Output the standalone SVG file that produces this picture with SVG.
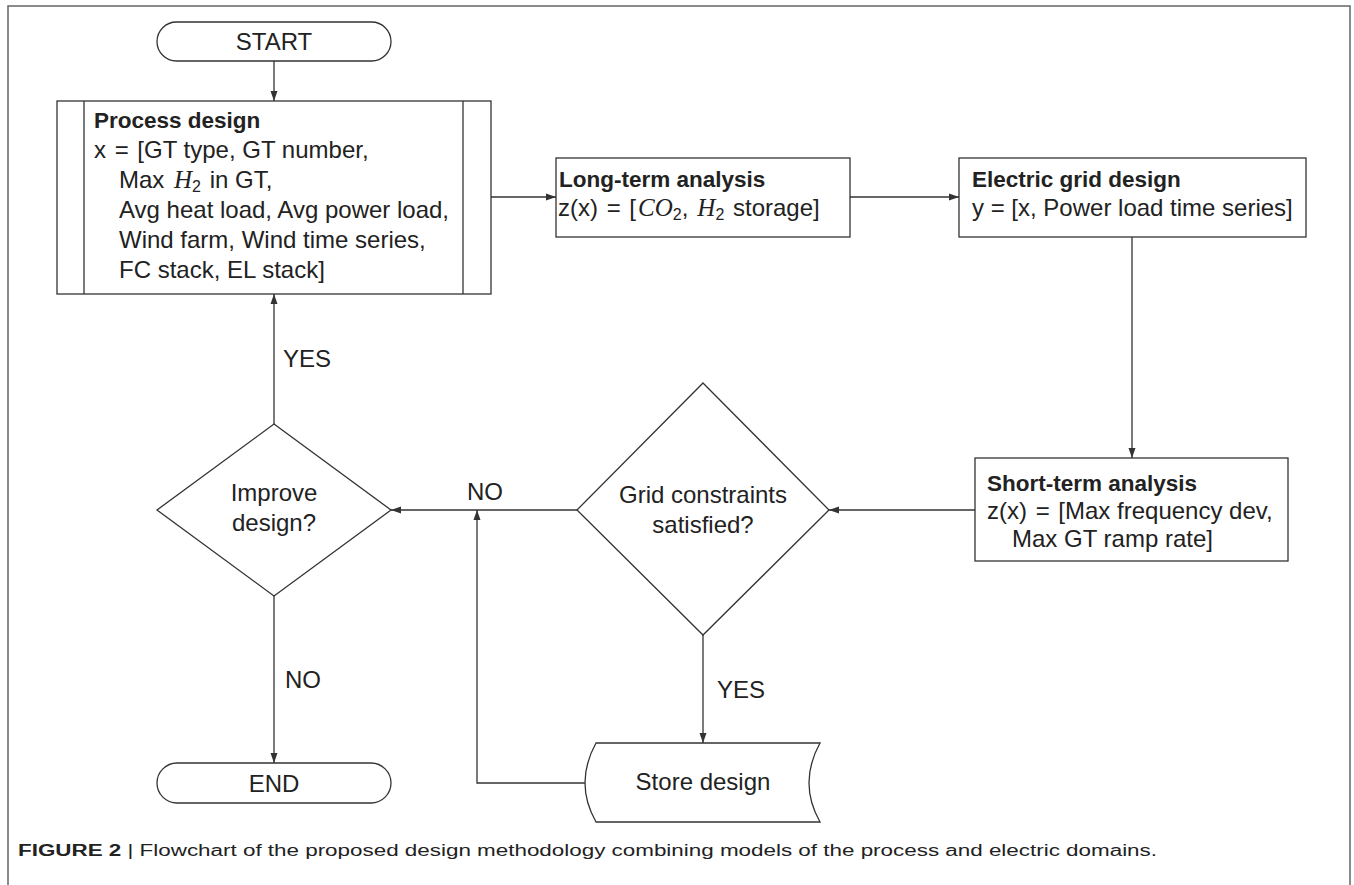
<svg xmlns="http://www.w3.org/2000/svg" width="1354" height="885" viewBox="0 0 1354 885">
<style>
  .t { font-family: "Liberation Sans", Arial, sans-serif; font-size: 24px; fill: #222; }
  .b { font-family: "Liberation Sans", Arial, sans-serif; font-size: 22.5px; font-weight: bold; fill: #222; }
  .c { text-anchor: middle; }
  .m { font-family: "Liberation Serif", "Times New Roman", serif; font-style: italic; font-size: 25px; }
  .s { font-size: 16px; }
  .shape { fill: #fff; stroke: #333; stroke-width: 1.3; }
  .conn { fill: none; stroke: #333; stroke-width: 1.3; }
  .cap { font-family: "Liberation Sans", Arial, sans-serif; font-size: 16px; fill: #222; }
</style>
<defs>
  <marker id="ah" viewBox="0 0 10 10" refX="10" refY="5" markerWidth="10" markerHeight="10" markerUnits="userSpaceOnUse" orient="auto">
    <path d="M0,1.5 L10,5 L0,8.5 Z" fill="#333"/>
  </marker>
</defs>
<rect width="1354" height="885" fill="#fff"/>
<path d="M8,885 L8,6 L1350,6 L1350,885" fill="none" stroke="#666" stroke-width="1.5"/>

<g id="connectors">
  <path class="conn" d="M274,61 L274,101" marker-end="url(#ah)"/>
  <path class="conn" d="M491,197 L556,197" marker-end="url(#ah)"/>
  <path class="conn" d="M850,197 L959,197" marker-end="url(#ah)"/>
  <path class="conn" d="M1132,237 L1132,458" marker-end="url(#ah)"/>
  <path class="conn" d="M975,510 L829,510" marker-end="url(#ah)"/>
  <path class="conn" d="M577,510 L391,510" marker-end="url(#ah)"/>
  <path class="conn" d="M274,424 L274,294" marker-end="url(#ah)"/>
  <path class="conn" d="M274,596 L274,763" marker-end="url(#ah)"/>
  <path class="conn" d="M703,635 L703,743" marker-end="url(#ah)"/>
  <path class="conn" d="M585,783 L477,783 L477,510" marker-end="url(#ah)"/>
  <text class="t" x="283" y="367">YES</text>
  <text class="t" x="467" y="500">NO</text>
  <text class="t" x="285" y="688">NO</text>
  <text class="t" x="717" y="698">YES</text>
</g>

<g id="start">
  <rect class="shape" x="157" y="22" width="234" height="39" rx="19.5"/>
  <text class="t c" x="274" y="50">START</text>
</g>

<g id="process">
  <rect class="shape" x="57" y="101" width="434" height="193"/>
  <line class="conn" x1="84" y1="101" x2="84" y2="294"/>
  <line class="conn" x1="463" y1="101" x2="463" y2="294"/>
  <text class="b" x="94" y="128">Process design</text>
  <text class="t" x="94" y="158">x <tspan dx="2">=</tspan> <tspan dx="2">[GT type, GT number,</tspan></text>
  <text class="t" x="119" y="188">Max <tspan class="m" dx="3">H</tspan><tspan class="s" dy="4">2</tspan><tspan dy="-4" dx="2"> in GT,</tspan></text>
  <text class="t" x="119" y="218">Avg heat load, Avg power load,</text>
  <text class="t" x="119" y="248">Wind farm, Wind time series,</text>
  <text class="t" x="119" y="278">FC stack, EL stack]</text>
</g>

<g id="longterm">
  <rect class="shape" x="556" y="158" width="294" height="79"/>
  <text class="b" x="559" y="187">Long-term analysis</text>
  <text class="t" x="558" y="216">z(x) <tspan dx="2">=</tspan> <tspan dx="2">[</tspan><tspan class="m" dx="2">CO</tspan><tspan class="s" dy="4">2</tspan><tspan dy="-4">,</tspan><tspan class="m" dx="9">H</tspan><tspan class="s" dy="4">2</tspan><tspan dy="-4" dx="2"> storage]</tspan></text>
</g>

<g id="electric">
  <rect class="shape" x="959" y="158" width="347" height="79"/>
  <text class="b" x="972" y="187">Electric grid design</text>
  <text class="t" x="972" y="216">y = [x, Power load time series]</text>
</g>

<g id="shortterm">
  <rect class="shape" x="975" y="458" width="313" height="103"/>
  <text class="b" x="987" y="491">Short-term analysis</text>
  <text class="t" x="987" y="519">z(x) <tspan dx="2">=</tspan> <tspan dx="2">[Max frequency dev,</tspan></text>
  <text class="t" x="1012" y="547">Max GT ramp rate]</text>
</g>

<g id="grid-check">
  <path class="shape" d="M703,383 L829,510 L703,635 L577,510 Z"/>
  <text class="t c" x="703" y="503">Grid constraints</text>
  <text class="t c" x="703" y="533">satisfied?</text>
</g>

<g id="improve">
  <path class="shape" d="M274,424 L391,510 L274,596 L157,510 Z"/>
  <text class="t c" x="274" y="501">Improve</text>
  <text class="t c" x="274" y="531">design?</text>
</g>

<g id="store">
  <path class="shape" d="M596,743 L820,743 Q798,783 820,822 L596,822 Q574,783 596,743 Z"/>
  <text class="t c" x="703" y="790">Store design</text>
</g>

<g id="end">
  <rect class="shape" x="157" y="763" width="234" height="40" rx="20"/>
  <text class="t c" x="274" y="792">END</text>
</g>

<g id="caption">
  <text class="cap" x="18" y="856" textLength="1139" lengthAdjust="spacingAndGlyphs"><tspan font-weight="bold">FIGURE 2</tspan> | Flowchart of the proposed design methodology combining models of the process and electric domains.</text>
</g>
</svg>
